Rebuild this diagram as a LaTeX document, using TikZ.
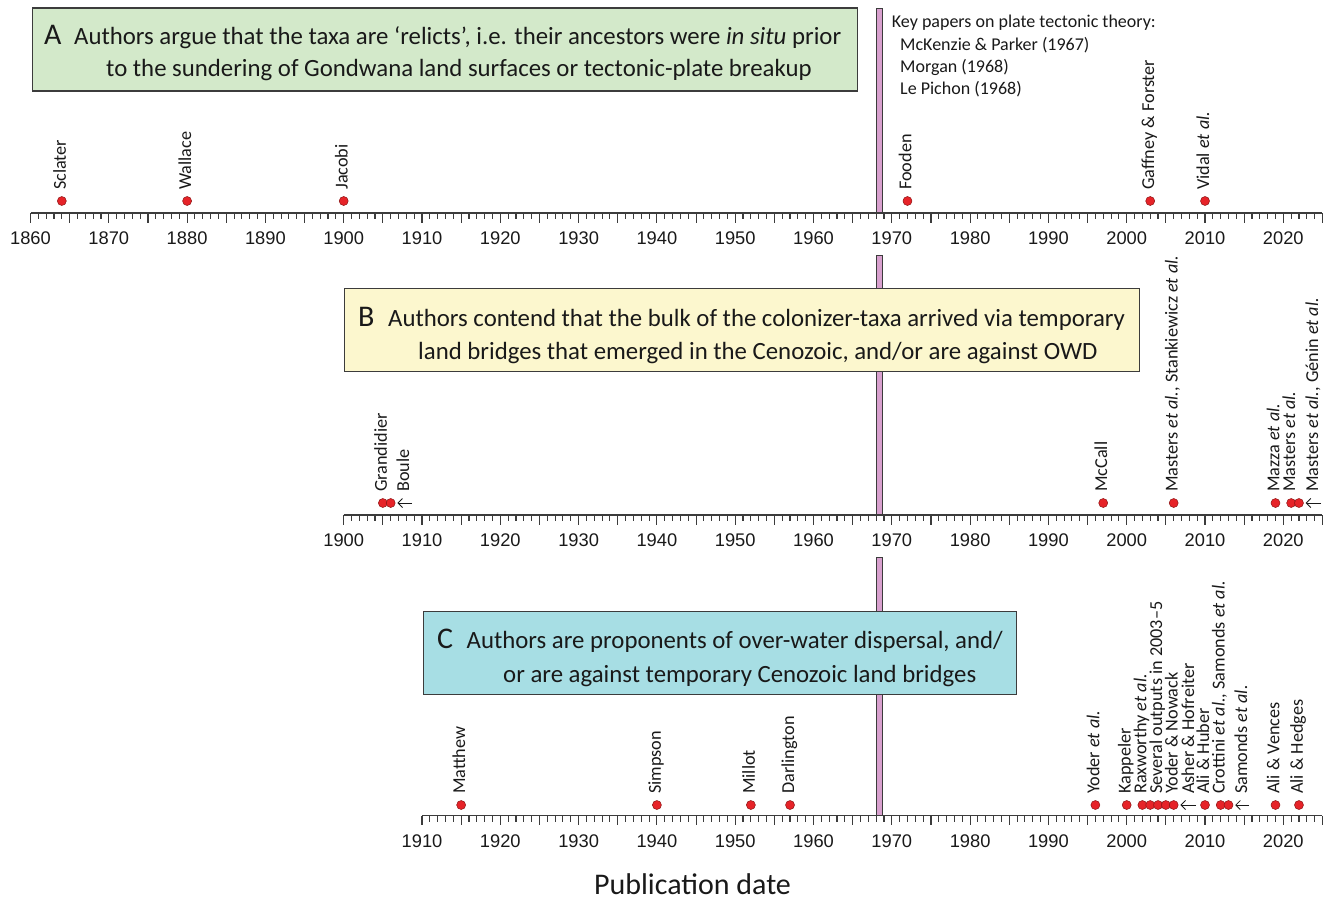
\documentclass[tikz,border=0pt]{standalone}
\usepackage{fontspec}
\setmainfont{Carlito}
\newfontfamily\arialf{Liberation Sans}
\usetikzlibrary{arrows.meta}
\definecolor{boxAc}{RGB}{211,233,202}
\definecolor{boxBc}{RGB}{252,247,206}
\definecolor{boxCc}{RGB}{167,222,228}
\definecolor{barc}{RGB}{216,160,206}
\definecolor{edgec}{RGB}{60,60,60}
\definecolor{dotred}{RGB}{230,35,40}
\definecolor{dotedge}{RGB}{140,20,20}
\definecolor{txt}{RGB}{25,25,25}
\pgfmathdeclarefunction{yr}{1}{\pgfmathparse{30.5+(#1-1860)*7.83}}
\begin{document}
\begin{tikzpicture}[x=1pt,y=-1pt,
  dot/.style={circle, fill=dotred, draw=dotedge, line width=0.5pt, inner sep=0pt, minimum size=9pt},
  lab/.style={rotate=90, anchor=west, inner sep=0pt, text height=12pt, text depth=4pt, text=txt, font=\fontsize{18.2}{20}\selectfont},
  num/.style={inner sep=0pt, text=txt, font=\arialf\fontsize{18.3}{20}\selectfont},
  axisline/.style={draw=edgec, line width=1.4pt},
  tickline/.style={draw=edgec, line width=1.1pt},
  bar/.style={fill=barc, draw=edgec, line width=0.9pt},
  box/.style={draw=edgec, line width=1.3pt, anchor=north west, inner sep=0pt},
  btxt/.style={inner sep=0pt, text=txt, font=\fontsize{24.8}{28}\selectfont},
  big/.style={inner sep=0pt, text=txt, font=\fontsize{30}{32}\selectfont},
  key/.style={inner sep=0pt, text=txt, anchor=west, font=\fontsize{18}{20}\selectfont},
  arr/.style={-{Straight Barb[length=4.5pt,width=9pt]}, draw=txt, line width=0.8pt, shorten >=2pt}
]
\useasboundingbox (0,0) rectangle (1329,899);

% ---- purple bars (plate tectonics)
\draw[bar] (876.8,8) rectangle (882.3,213);
\draw[bar] (876.8,255) rectangle (882.3,515);
\draw[bar] (876.8,557) rectangle (882.3,815.7);

% ---- boxes
\node[box, fill=boxAc, minimum width=825, minimum height=83] (boxA) at (31.7,7.3) {};
\node[box, fill=boxBc, minimum width=795, minimum height=83] (boxB) at (344,288) {};
\node[box, fill=boxCc, minimum width=593, minimum height=83] (boxC) at (423,611) {};

\node[big, anchor=base west] (bigA) at (44,45) {A};
\node[btxt, anchor=base west] (tA1) at (74,45) {Authors argue that the taxa are ‘relicts’, i.e. their ancestors were \textit{in situ} prior};
\node[btxt, anchor=base west] (tA2) at (106,77) {to the sundering of Gondwana land surfaces or tectonic-plate breakup};

\node[big, anchor=base west] (bigB) at (358,326) {B};
\node[btxt, anchor=base west] (tB1) at (388,326) {Authors contend that the bulk of the colonizer-taxa arrived via temporary};
\node[btxt, anchor=base west] (tB2) at (418,359) {land bridges that emerged in the Cenozoic, and/or are against OWD};

\node[big, anchor=base west] (bigC) at (437,648) {C};
\node[btxt, anchor=base west] (tC1) at (466.5,648) {Authors are proponents of over-water dispersal, and/};
\node[btxt, anchor=base west] (tC2) at (503,682) {or are against temporary Cenozoic land bridges};

% ---- key papers
\node[key] (k1) at (891.7,23) {Key papers on plate tectonic theory:};
\node[key] (k2) at (900,45) {McKenzie \& Parker (1967)};
\node[key] (k3) at (900,67) {Morgan (1968)};
\node[key] (k4) at (900,89) {Le Pichon (1968)};

% ---- axes
\foreach \s/\ay/\nm in {1860/213/A,1900/515/B,1910/815.7/C}{
  \coordinate (ax\nm0) at ({yr(\s)},\ay);
  \coordinate (ax\nm1) at ({yr(2025)},\ay);
  \foreach \y in {\s,...,2025}{
    \pgfmathsetmacro\tl{ifthenelse(mod(\y,5)==0,9.5,6)}
    \draw[tickline] ({yr(\y)},\ay) -- ++(0,\tl);
  }
  \draw[axisline] (ax\nm0) -- (ax\nm1);
  \pgfmathtruncatemacro\st{\s+10}
  \foreach \y in {\s,\st,...,2020}{
    \node[num] (n\nm\y) at ({yr(\y)},\ay+25) {\y};
  }
}

% ---- A dots and labels
\foreach \y/\n/\t in {1864/1/Sclater,1880/2/Wallace,1900/3/Jacobi,1972/4/Fooden,2003/5/Gaffney \& Forster,2010/6/Vidal \textit{et al.}}{
  \node[dot] (dA\n) at ({yr(\y)},201) {};
  \node[lab] (lA\n) at ({yr(\y)},190) {\t};
}

% ---- B dots and labels
\foreach \y/\n in {1905/1,1906/2,1997/3,2006/4,2019/5,2021/6,2022/7}{
  \node[dot] (dB\n) at ({yr(\y)},503) {};
}
\node[lab] (lB1) at ({yr(1905)},492) {Grandidier};
\node[lab] (lB2) at (405,492) {Boule};
\coordinate (aB2) at (412,503);
\draw[arr] (aB2) -- (dB2);
\node[lab] (lB3) at ({yr(1997)},492) {McCall};
\node[lab] (lB4) at ({yr(2006)},492) {Masters \textit{et al.}, Stankiewicz \textit{et al.}};
\node[lab] (lB5) at ({yr(2019)},492) {Mazza \textit{et al.}};
\node[lab] (lB6) at ({yr(2021)},492) {Masters \textit{et al.}};
\node[lab] (lB7) at (1314,492) {Masters \textit{et al.}, Génin \textit{et al.}};
\coordinate (aB7) at (1321,503);
\draw[arr] (aB7) -- (dB7);

% ---- C dots and labels
\foreach \y/\n in {1915/1,1940/2,1952/3,1957/4,1996/5,2000/6,2002/7,2003/8,2004/9,2005/10,2006/11,2010/12,2012/13,2013/14,2019/15,2022/16}{
  \node[dot] (dC\n) at ({yr(\y)},805) {};
}
\node[lab] (lC1) at ({yr(1915)},794) {Matthew};
\node[lab] (lC2) at ({yr(1940)},794) {Simpson};
\node[lab] (lC3) at ({yr(1952)},794) {Millot};
\node[lab] (lC4) at ({yr(1957)},794) {Darlington};
\node[lab] (lC5) at ({yr(1996)},794) {Yoder \textit{et al.}};
\node[lab] (lC6) at ({yr(2000)},794) {Kappeler};
\node[lab] (lC7) at ({yr(2002)},794) {Raxworthy \textit{et al.}};
\node[lab] (lC9) at ({yr(2004)},794) {Several outputs in 2003–5};
\node[lab] (lC11) at ({yr(2006)},794) {Yoder \& Nowack};
\node[lab] (lC11b) at (1190,794) {Asher \& Hofreiter};
\coordinate (aC11) at (1196,805);
\draw[arr] (aC11) -- (dC11);
\node[lab] (lC12) at ({yr(2010)},794) {Ali \& Huber};
\node[lab] (lC13) at ({yr(2012)},794) {Crottini \textit{et al.}, Samonds \textit{et al.}};
\node[lab] (lC14) at (1243,794) {Samonds \textit{et al.}};
\coordinate (aC14) at (1249,805);
\draw[arr] (aC14) -- (dC14);
\node[lab] (lC15) at ({yr(2019)},794) {Ali \& Vences};
\node[lab] (lC16) at ({yr(2022)},794) {Ali \& Hedges};

% ---- axis title
\node[inner sep=0pt, anchor=base, text=txt, font=\fontsize{30}{32}\selectfont] (title) at (692.5,894) {Publication date};
\end{tikzpicture}
\end{document}
